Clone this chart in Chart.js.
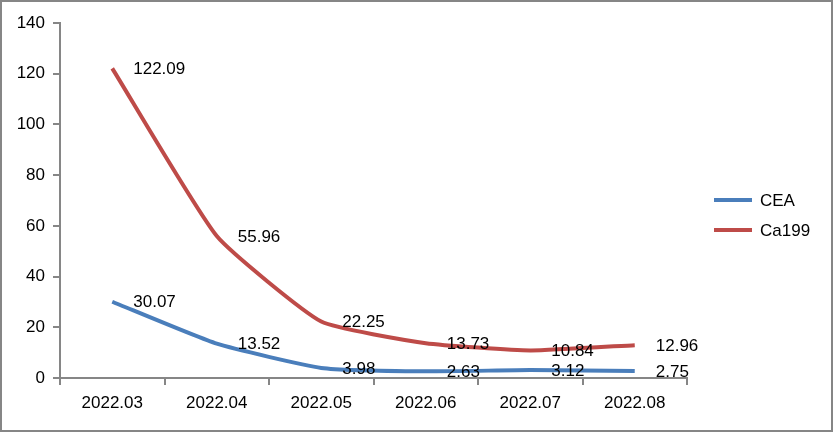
<!DOCTYPE html>
<html lang="en">
<head>
<meta charset="UTF-8">
<title>CEA / Ca199</title>
<style>
body { margin: 0; background: white; }
#wrap { width: 833px; height: 432px; }
</style>
</head>
<body>
<div id="wrap"><canvas id="chart" width="833" height="432"></canvas></div>
<script src="https://cdn.jsdelivr.net/npm/chart.js"></script>
<script>
const months = ['2022.03', '2022.04', '2022.05', '2022.06', '2022.07', '2022.08'];
const cea = [30.07, 13.52, 3.98, 2.63, 3.12, 2.75];
const ca199 = [122.09, 55.96, 22.25, 13.73, 10.84, 12.96];
const seriesNames = ['CEA', 'Ca199'];
const seriesColors = ['#4a7ebb', '#be4b48'];

const FONT = "'Liberation Sans', Arial, sans-serif";
const AXIS = '#868686';

// value labels to the right of each point
const valueLabels = {
    id: 'valueLabels',
    afterDatasetsDraw(chart) {
        const { ctx } = chart;
        ctx.save();
        ctx.font = '17px ' + FONT;
        ctx.fillStyle = '#000';
        ctx.textAlign = 'left';
        ctx.textBaseline = 'middle';
        chart.data.datasets.forEach((ds, di) => {
            chart.getDatasetMeta(di).data.forEach((pt, i) => {
                ctx.fillText(ds.data[i].toFixed(2), pt.x + 21, pt.y + 1);
            });
        });
        ctx.restore();
    }
};

// legend at the right plus outer frame
const sideLegend = {
    id: 'sideLegend',
    afterDraw(chart) {
        const { ctx } = chart;
        ctx.save();
        ctx.font = '17px ' + FONT;
        ctx.textBaseline = 'middle';
        seriesNames.forEach((name, i) => {
            const y = 200 + i * 30;
            ctx.strokeStyle = seriesColors[i];
            ctx.lineWidth = 4;
            ctx.beginPath();
            ctx.moveTo(714, y);
            ctx.lineTo(752, y);
            ctx.stroke();
            ctx.fillStyle = '#000';
            ctx.fillText(name, 760, y + 1);
        });
        ctx.strokeStyle = AXIS;
        ctx.lineWidth = 2;
        ctx.strokeRect(1, 1, 831, 430);
        ctx.restore();
    }
};

new Chart(document.getElementById('chart'), {
    type: 'line',
    data: {
        labels: months,
        datasets: [
            { label: seriesNames[0], data: cea, borderColor: seriesColors[0], backgroundColor: seriesColors[0],
              borderWidth: 4, pointRadius: 0, tension: 0.15 },
            { label: seriesNames[1], data: ca199, borderColor: seriesColors[1], backgroundColor: seriesColors[1],
              borderWidth: 4, pointRadius: 0, tension: 0.15 }
        ]
    },
    options: {
        responsive: false,
        animation: false,
        layout: { padding: { top: 23, right: 146, left: 0, bottom: 0 } },
        plugins: { legend: { display: false }, tooltip: { enabled: false } },
        scales: {
            x: {
                offset: true,
                grid: { offset: true, drawOnChartArea: false, color: AXIS, lineWidth: 2, tickLength: 7 },
                border: { color: AXIS, width: 2 },
                ticks: { color: '#000', font: { family: FONT, size: 17 }, padding: 8, maxRotation: 0 },
                afterFit(scale) { scale.height = 54; }
            },
            y: {
                min: 0, max: 140,
                ticks: { stepSize: 20, color: '#000', font: { family: FONT, size: 17 }, padding: 8 },
                grid: { drawOnChartArea: false, color: AXIS, lineWidth: 2, tickLength: 7 },
                border: { color: AXIS, width: 2 },
                afterFit(scale) { scale.width = 60; }
            }
        }
    },
    plugins: [valueLabels, sideLegend]
});
</script>
</body>
</html>
